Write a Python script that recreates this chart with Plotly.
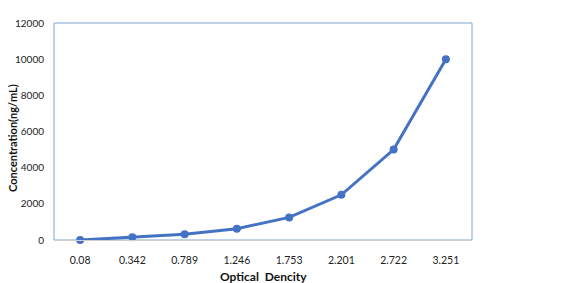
import plotly.graph_objects as go

od_labels = ["0.08", "0.342", "0.789", "1.246", "1.753", "2.201", "2.722", "3.251"]
concentration = [0, 156, 312, 625, 1250, 2500, 5000, 10000]
y_ticks = [0, 2000, 4000, 6000, 8000, 10000, 12000]

fig = go.Figure()
fig.add_trace(go.Scatter(
    x=od_labels, y=concentration, mode="lines+markers",
    line=dict(color="#4472C4", width=3),
    marker=dict(color="#4472C4", size=8),
    cliponaxis=False,
))

font = "Lato, 'Open Sans', sans-serif"
L, R, T, B = 54, 105, 23, 43
fig.update_layout(
    width=577, height=283,
    margin=dict(l=L, r=R, t=T, b=B, autoexpand=False),
    paper_bgcolor="white", plot_bgcolor="white",
    showlegend=False,
    font=dict(family=font, size=10, color="#222"),
    shapes=[dict(type="rect", xref="paper", yref="paper", x0=0, x1=1, y0=0, y1=1,
                 line=dict(color="#7fa6cc", width=1), layer="below")],
    annotations=[
        dict(text="<b>Concentration(ng/mL)</b>", xref="paper", yref="paper",
             x=(12 - L) / (577 - L - R), y=(283 - B - 138) / (283 - T - B),
             xanchor="center", yanchor="middle", textangle=-90, showarrow=False,
             font=dict(size=11, family=font, color="#111")),
        dict(text="<b>Optical  Dencity</b>", xref="paper", yref="paper",
             x=0.5, y=-(276 - (283 - B)) / (283 - T - B),
             xanchor="center", yanchor="middle", showarrow=False,
             font=dict(size=12, family=font, color="#111")),
    ],
)
fig.update_xaxes(
    type="category", range=[-0.5, 7.5], automargin=False,
    showgrid=False, zeroline=False,
    showline=True, linecolor="#d0d0d0", linewidth=1,
    ticks="", ticklabelstandoff=10,
    tickfont=dict(size=10.5, family=font, color="#222"),
)
fig.update_yaxes(
    range=[0, 12000], tickvals=y_ticks, ticktext=[str(v) for v in y_ticks],
    automargin=False,
    showgrid=False, zeroline=False, showline=False,
    ticks="", ticklabelstandoff=9,
    tickfont=dict(size=10, family=font, color="#222"),
)
fig.write_html("out.html")
